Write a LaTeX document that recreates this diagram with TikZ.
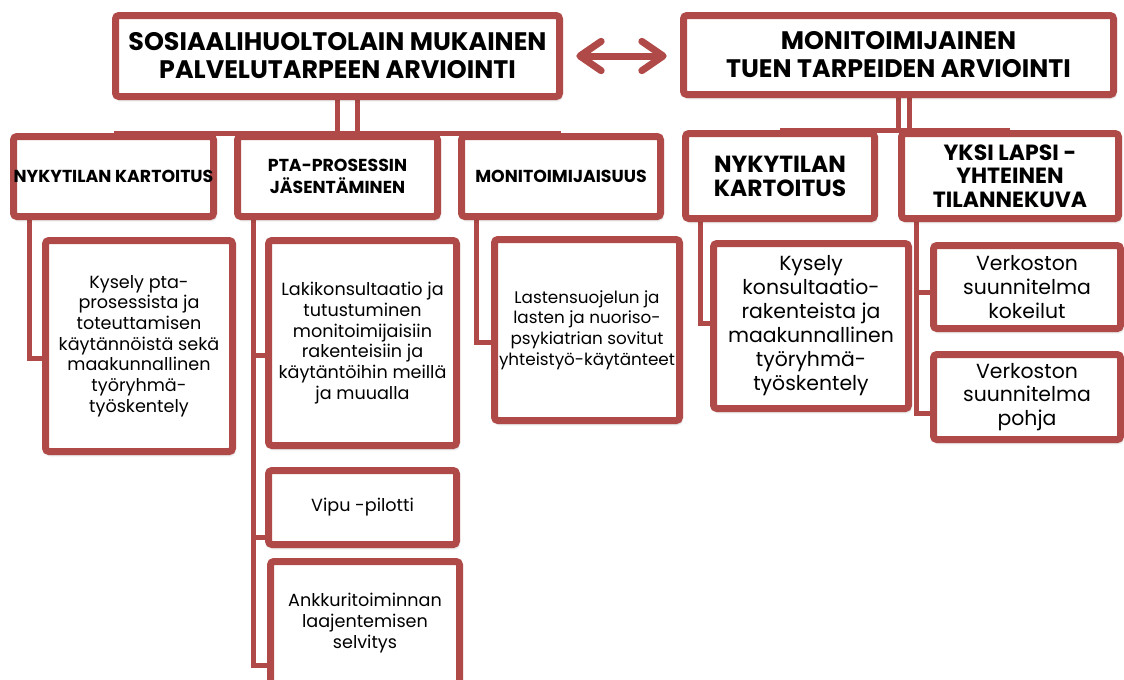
\documentclass[tikz,border=0pt]{standalone}
\usepackage{fontspec}
\setmainfont{Poppins}
\newfontfamily\headfont{Poppins}
\usetikzlibrary{calc,arrows.meta,shadows.blur,backgrounds}
\definecolor{brick}{RGB}{176,74,72}

\begin{document}
\begin{tikzpicture}[x=0.75pt,y=-0.75pt,
  wh/.style 2 args={minimum width=#1*0.75pt,minimum height=#2*0.75pt},
  box/.style={draw=brick,line width=5.25pt,fill=white,rounded corners=2.5pt,inner sep=0pt,align=center,
    blur shadow={shadow xshift=1pt,shadow yshift=-2pt,shadow blur steps=6,shadow opacity=35}},
  top/.style={box,font=\headfont\bfseries\fontsize{19}{21}\selectfont},
  sub/.style={box,font=\headfont\bfseries\fontsize{13}{16.5}\selectfont},
  leaf/.style={box,font=\fontsize{13.2}{15.5}\selectfont},
  bigleaf/.style={box,font=\fontsize{15.3}{17.8}\selectfont},
  link/.style={draw=brick,line width=3.75pt},
  dbl/.style={draw=brick,line width=5.25pt,{Straight Barb[round,length=16pt,width=22pt]}-{Straight Barb[round,length=16pt,width=22pt]}}]
\clip (0,0) rectangle (1124,679);

% top level
\node[top,wh={444}{81}] (pl) at (337.5,56) {SOSIAALIHUOLTOLAIN MUKAINEN\\PALVELUTARPEEN ARVIOINTI};
\node[top,wh={430}{79}] (pr) at (898.5,55) {MONITOIMIJAINEN\\TUEN TARPEIDEN ARVIOINTI};
\draw[dbl,shorten <=10pt,shorten >=10pt] (pl.east) -- (pl.east -| pr.west);

% second level
\node[sub,wh={200}{80}] (lk) at (113.5,176.5) {NYKYTILAN KARTOITUS};
\node[sub,wh={200}{80}] (lp) at (337.5,176.5) {PTA-PROSESSIN\\JÄSENTÄMINEN};
\node[sub,wh={199}{80}] (lm) at (561,176.5) {MONITOIMIJAISUUS};
\node[sub,wh={189}{85},font=\headfont\bfseries\fontsize{17.5}{18}\selectfont] (rk) at (780,176) {NYKYTILAN\\KARTOITUS};
\node[sub,wh={217}{85},font=\headfont\bfseries\fontsize{16.5}{17.5}\selectfont] (ry) at (1010,176) {YKSI LAPSI -\\YHTEINEN\\TILANNEKUVA};

% leaves
\node[leaf,wh={187}{211}] (kysely) at (139,346) {Kysely pta-\\prosessista ja\\toteuttamisen\\käytännöistä sekä\\maakunnallinen\\työryhmä-\\työskentely};
\node[leaf,wh={188}{205}] (laki) at (362.5,343) {Lakikonsultaatio ja\\tutustuminen\\monitoimijaisiin\\rakenteisiin ja\\käytäntöihin meillä\\ja muualla};
\node[leaf,wh={188}{74}] (vipu) at (362.5,507.5) {Vipu -pilotti};
\node[leaf,wh={189}{123}] (ankkuri) at (365,623) {Ankkuritoiminnan\\laajentemisen\\selvitys};
\node[leaf,wh={185}{181},font=\fontsize{12.6}{15.5}\selectfont] (lasu) at (587,330) {Lastensuojelun ja\\lasten ja nuoriso-\\psykiatrian sovitut\\yhteistyö-käytänteet};
\node[bigleaf,wh={195}{165},font=\fontsize{15.3}{18}\selectfont] (konsul) at (811,326) {Kysely\\konsultaatio-\\rakenteista ja\\maakunnallinen\\työryhmä-\\työskentely};
\node[bigleaf,wh={187}{83}] (kokeilut) at (1027,287) {Verkoston\\suunnitelma\\kokeilut};
\node[bigleaf,wh={187}{85}] (pohja) at (1027,397) {Verkoston\\suunnitelma\\pohja};

% connectors
\begin{scope}[on background layer]
\draw[link] (lk.north) -- (lm.north);
\draw[link] (pl.south) -- (lp.north);
\draw[link] ($(pl.south)+(20,0)$) -- ($(lp.north)+(20,0)$);
\draw[link] (rk.north) -- (ry.north);
\draw[link] (pr.south) -- (pr.south |- ry.north);
\draw[link] ($(pr.south)+(11,0)$) -- ($(pr.south |- ry.north)+(11,0)$);
\draw[link] ($(lk.south west)+(19.5,0)$) |- ($(kysely.west)+(0,12)$);
\draw[link] ($(lp.south west)+(19.5,0)$) |- ($(laki.west)+(0,12)$);
\draw[link] ($(lp.south west)+(19.5,0)$) |- ($(vipu.west)+(0,30)$);
\draw[link] ($(lp.south west)+(19.5,0)$) |- ($(ankkuri.west)+(0,42)$);
\draw[link] ($(lm.south west)+(18.5,0)$) |- ($(lasu.west)+(0,12)$);
\draw[link] ($(rk.south west)+(18.5,0)$) |- ($(konsul.west)+(0,-3)$);
\draw[link] ($(ry.south west)+(18.5,0)$) |- ($(kokeilut.west)+(0,5)$);
\draw[link] ($(ry.south west)+(18.5,0)$) |- ($(pohja.west)+(0,16)$);
\end{scope}
\end{tikzpicture}
\end{document}
